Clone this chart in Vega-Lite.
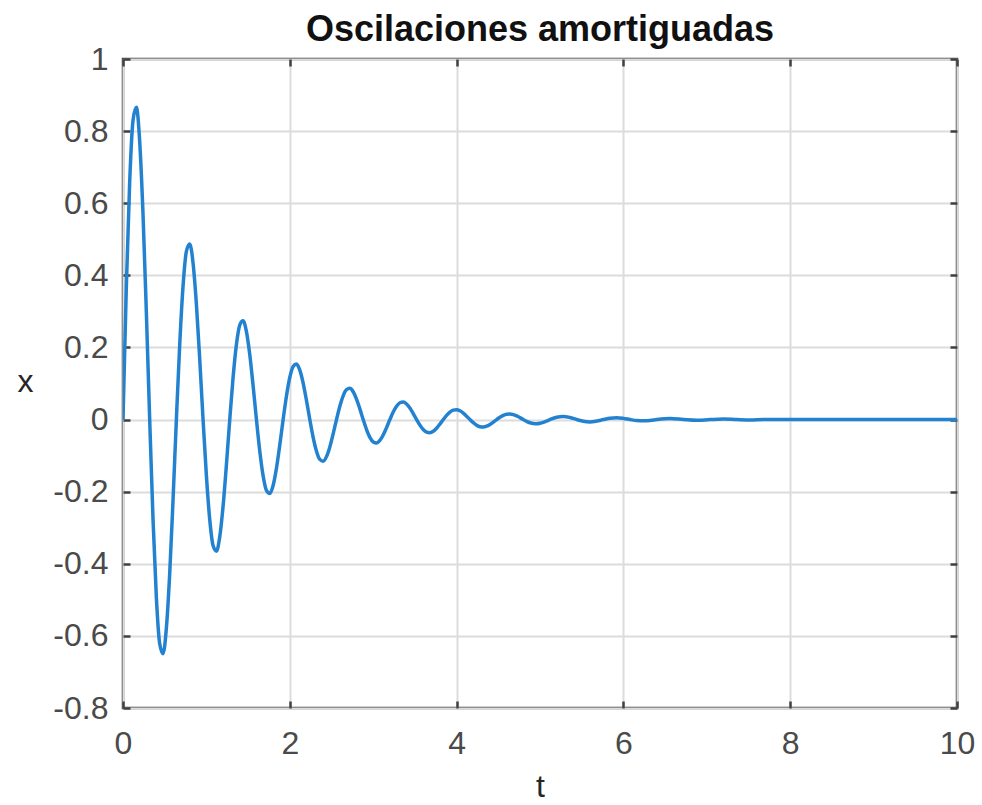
{
  "$schema": "https://vega.github.io/schema/vega-lite/v6.json",
  "autosize": {"type": "none"},
  "padding": {"left": 123, "top": 59, "right": 25, "bottom": 97},
  "width": 834,
  "height": 649,
  "background": "#ffffff",
  "title": {
    "text": "Oscilaciones amortiguadas",
    "font": "Liberation Sans",
    "fontSize": 36,
    "fontWeight": "bold",
    "color": "#111111",
    "offset": -6,
    "anchor": "middle"
  },
  "config": {
    "view": {"stroke": "#404040", "strokeWidth": 2.5},
    "axis": {
      "labelFont": "Liberation Sans",
      "titleFont": "Liberation Sans",
      "labelFontSize": 32,
      "titleFontSize": 32,
      "labelColor": "#4a4a4a",
      "titleColor": "#262626",
      "titleFontWeight": "normal",
      "gridColor": "#dcdcdc",
      "gridWidth": 2,
      "gridOpacity": 1,
      "domain": false,
      "tickColor": "#404040",
      "tickWidth": 2.5,
      "tickSize": -7
    }
  },
  "data": {
    "values": [
      {"t": 0, "x": 0},
      {"t": 0.04, "x": 0.3692},
      {"t": 0.08, "x": 0.658},
      {"t": 0.12, "x": 0.8293},
      {"t": 0.16, "x": 0.8659},
      {"t": 0.2, "x": 0.7717},
      {"t": 0.24, "x": 0.5697},
      {"t": 0.28, "x": 0.2974},
      {"t": 0.32, "x": 0},
      {"t": 0.36, "x": -0.2768},
      {"t": 0.4, "x": -0.4933},
      {"t": 0.44, "x": -0.6218},
      {"t": 0.48, "x": -0.6492},
      {"t": 0.52, "x": -0.5786},
      {"t": 0.56, "x": -0.4272},
      {"t": 0.6, "x": -0.223},
      {"t": 0.64, "x": 0},
      {"t": 0.68, "x": 0.2075},
      {"t": 0.72, "x": 0.3699},
      {"t": 0.76, "x": 0.4662},
      {"t": 0.8, "x": 0.4868},
      {"t": 0.84, "x": 0.4339},
      {"t": 0.88, "x": 0.3203},
      {"t": 0.92, "x": 0.1672},
      {"t": 0.96, "x": 0},
      {"t": 1.0, "x": -0.1556},
      {"t": 1.04, "x": -0.2773},
      {"t": 1.08, "x": -0.3496},
      {"t": 1.12, "x": -0.365},
      {"t": 1.16, "x": -0.3253},
      {"t": 1.2, "x": -0.2401},
      {"t": 1.24, "x": -0.1254},
      {"t": 1.28, "x": 0},
      {"t": 1.32, "x": 0.1167},
      {"t": 1.36, "x": 0.208},
      {"t": 1.4, "x": 0.2621},
      {"t": 1.44, "x": 0.2737},
      {"t": 1.48, "x": 0.2439},
      {"t": 1.52, "x": 0.1801},
      {"t": 1.56, "x": 0.094},
      {"t": 1.6, "x": 0},
      {"t": 1.64, "x": -0.0875},
      {"t": 1.68, "x": -0.1559},
      {"t": 1.72, "x": -0.1965},
      {"t": 1.76, "x": -0.2052},
      {"t": 1.8, "x": -0.1828},
      {"t": 1.84, "x": -0.135},
      {"t": 1.88, "x": -0.0705},
      {"t": 1.92, "x": 0},
      {"t": 1.96, "x": 0.0656},
      {"t": 2.0, "x": 0.1169},
      {"t": 2.04, "x": 0.1474},
      {"t": 2.08, "x": 0.1538},
      {"t": 2.12, "x": 0.1371},
      {"t": 2.16, "x": 0.1013},
      {"t": 2.2, "x": 0.0529},
      {"t": 2.24, "x": 0},
      {"t": 2.28, "x": -0.0492},
      {"t": 2.32, "x": -0.0877},
      {"t": 2.36, "x": -0.1105},
      {"t": 2.4, "x": -0.1154},
      {"t": 2.44, "x": -0.1028},
      {"t": 2.48, "x": -0.0759},
      {"t": 2.52, "x": -0.0396},
      {"t": 2.56, "x": 0},
      {"t": 2.6, "x": 0.0369},
      {"t": 2.64, "x": 0.0658},
      {"t": 2.68, "x": 0.0829},
      {"t": 2.72, "x": 0.0865},
      {"t": 2.76, "x": 0.0771},
      {"t": 2.8, "x": 0.0569},
      {"t": 2.84, "x": 0.0297},
      {"t": 2.88, "x": 0},
      {"t": 2.92, "x": -0.0277},
      {"t": 2.96, "x": -0.0493},
      {"t": 3.0, "x": -0.0621},
      {"t": 3.04, "x": -0.0649},
      {"t": 3.08, "x": -0.0578},
      {"t": 3.12, "x": -0.0427},
      {"t": 3.16, "x": -0.0223},
      {"t": 3.2, "x": 0},
      {"t": 3.24, "x": 0.0207},
      {"t": 3.28, "x": 0.037},
      {"t": 3.32, "x": 0.0466},
      {"t": 3.36, "x": 0.0486},
      {"t": 3.4, "x": 0.0433},
      {"t": 3.44, "x": 0.032},
      {"t": 3.48, "x": 0.0167},
      {"t": 3.52, "x": 0},
      {"t": 3.56, "x": -0.0155},
      {"t": 3.6, "x": -0.0277},
      {"t": 3.64, "x": -0.0349},
      {"t": 3.68, "x": -0.0365},
      {"t": 3.72, "x": -0.0325},
      {"t": 3.76, "x": -0.024},
      {"t": 3.8, "x": -0.0125},
      {"t": 3.84, "x": 0},
      {"t": 3.88, "x": 0.0117},
      {"t": 3.92, "x": 0.0208},
      {"t": 3.96, "x": 0.0261},
      {"t": 4.0, "x": 0.0273},
      {"t": 4.04, "x": 0.0243},
      {"t": 4.08, "x": 0.018},
      {"t": 4.12, "x": 0.0094},
      {"t": 4.16, "x": 0},
      {"t": 4.2, "x": -0.0087},
      {"t": 4.24, "x": -0.0156},
      {"t": 4.28, "x": -0.0197},
      {"t": 4.32, "x": -0.0205},
      {"t": 4.36, "x": -0.0183},
      {"t": 4.4, "x": -0.0135},
      {"t": 4.44, "x": -0.007},
      {"t": 4.48, "x": 0},
      {"t": 4.52, "x": 0.0065},
      {"t": 4.56, "x": 0.0117},
      {"t": 4.6, "x": 0.0148},
      {"t": 4.64, "x": 0.0154},
      {"t": 4.68, "x": 0.0138},
      {"t": 4.72, "x": 0.0101},
      {"t": 4.76, "x": 0.0053},
      {"t": 4.8, "x": 0},
      {"t": 4.84, "x": -0.0049},
      {"t": 4.88, "x": -0.0088},
      {"t": 4.92, "x": -0.0111},
      {"t": 4.96, "x": -0.0116},
      {"t": 5.0, "x": -0.0103},
      {"t": 5.04, "x": -0.0076},
      {"t": 5.08, "x": -0.004},
      {"t": 5.12, "x": 0},
      {"t": 5.2, "x": 0.0066},
      {"t": 5.28, "x": 0.0087},
      {"t": 5.36, "x": 0.0057},
      {"t": 5.44, "x": 0},
      {"t": 5.52, "x": -0.0049},
      {"t": 5.6, "x": -0.0065},
      {"t": 5.68, "x": -0.0042},
      {"t": 5.76, "x": 0},
      {"t": 5.84, "x": 0.0037},
      {"t": 5.92, "x": 0.0049},
      {"t": 6.0, "x": 0.0032},
      {"t": 6.08, "x": 0},
      {"t": 6.16, "x": -0.0028},
      {"t": 6.24, "x": -0.0036},
      {"t": 6.32, "x": -0.0024},
      {"t": 6.4, "x": 0},
      {"t": 6.56, "x": 0.0028},
      {"t": 6.72, "x": 0},
      {"t": 6.88, "x": -0.0021},
      {"t": 7.04, "x": 0},
      {"t": 7.2, "x": 0.0015},
      {"t": 7.36, "x": 0},
      {"t": 7.52, "x": -0.0011},
      {"t": 7.68, "x": 0},
      {"t": 8.0, "x": 0},
      {"t": 9.0, "x": 0},
      {"t": 10.0, "x": 0}
    ]
  },
  "layer": [
    {
      "mark": {"type": "line", "color": "#2382d0", "strokeWidth": 3.5, "interpolate": "monotone", "clip": true},
      "encoding": {
        "x": {
          "field": "t", "type": "quantitative",
          "scale": {"domain": [0, 10], "nice": false, "zero": false},
          "axis": {
            "orient": "bottom",
            "values": [0, 2, 4, 6, 8, 10],
            "labelExpr": "datum.value + ''",
            "labelBaseline": "alphabetic",
            "labelPadding": 52,
            "labelFlush": false,
            "title": "t",
            "titleX": 417,
            "titleY": 88,
            "titleBaseline": "alphabetic",
            "titleAlign": "center"
          }
        },
        "y": {
          "field": "x", "type": "quantitative",
          "scale": {"domain": [-0.8, 1], "nice": false, "zero": false},
          "axis": {
            "orient": "left",
            "values": [-0.8, -0.6, -0.4, -0.2, 0, 0.2, 0.4, 0.6, 0.8, 1],
            "labelExpr": "datum.value + ''",
            "labelPadding": 22,
            "labelFlush": false,
            "title": "x",
            "titleAngle": 0,
            "titleX": -98,
            "titleY": 322,
            "titleBaseline": "middle",
            "titleAlign": "center"
          }
        }
      }
    },
    {
      "mark": {"type": "line", "opacity": 0},
      "encoding": {
        "x": {
          "field": "t", "type": "quantitative",
          "axis": {"orient": "top", "values": [0, 2, 4, 6, 8, 10], "labels": false, "grid": false, "title": null}
        },
        "y": {
          "field": "x", "type": "quantitative",
          "axis": {"orient": "right", "values": [-0.8, -0.6, -0.4, -0.2, 0, 0.2, 0.4, 0.6, 0.8, 1], "labels": false, "grid": false, "title": null}
        }
      }
    }
  ]
}
